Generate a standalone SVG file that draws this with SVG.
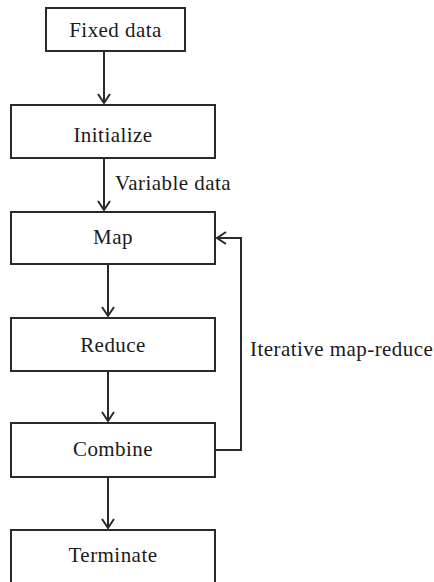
<svg xmlns="http://www.w3.org/2000/svg" width="434" height="582" viewBox="0 0 434 582">
<defs>
<style>
.box{fill:#fff;stroke:#2a2a2a;stroke-width:2}
.lbl{font-family:"Liberation Serif","DejaVu Serif",serif;font-size:21px;letter-spacing:0.45px;fill:#1a1a1a}
.c{text-anchor:middle}
.ln{fill:none;stroke:#2a2a2a;stroke-width:2}
</style>
<marker id="ah" markerUnits="userSpaceOnUse" markerWidth="20" markerHeight="20" viewBox="-10 -10 20 20" refX="0" refY="0" orient="auto">
<path d="M-9,-6 L0,0 L-9,6" fill="none" stroke="#2a2a2a" stroke-width="2"/>
</marker>
</defs>
<rect width="434" height="582" fill="#fff"/>
<g id="connectors">
<line class="ln" x1="104" y1="51" x2="104" y2="103" marker-end="url(#ah)"/>
<line class="ln" x1="104" y1="158" x2="104" y2="210" marker-end="url(#ah)"/>
<line class="ln" x1="108" y1="264" x2="108" y2="316" marker-end="url(#ah)"/>
<line class="ln" x1="108" y1="371" x2="108" y2="421" marker-end="url(#ah)"/>
<line class="ln" x1="108" y1="477" x2="108" y2="528" marker-end="url(#ah)"/>
<polyline class="ln" points="215,450 241,450 241,238 217,238" marker-end="url(#ah)"/>
<text class="lbl" x="115" y="190">Variable data</text>
<text class="lbl" x="250" y="356">Iterative map-reduce</text>
</g>
<g id="fixed-data"><rect class="box" x="46" y="8" width="139" height="43"/><text class="lbl c" x="115.5" y="37">Fixed data</text></g>
<g id="initialize"><rect class="box" x="11" y="105" width="204" height="53"/><text class="lbl c" x="113" y="142">Initialize</text></g>
<g id="map"><rect class="box" x="11" y="212" width="204" height="52"/><text class="lbl c" x="113" y="244">Map</text></g>
<g id="reduce"><rect class="box" x="11" y="318" width="204" height="53"/><text class="lbl c" x="113" y="352">Reduce</text></g>
<g id="combine"><rect class="box" x="11" y="423" width="204" height="54"/><text class="lbl c" x="113" y="456">Combine</text></g>
<g id="terminate"><rect class="box" x="11" y="530" width="204" height="60"/><text class="lbl c" x="113" y="562">Terminate</text></g>
</svg>
